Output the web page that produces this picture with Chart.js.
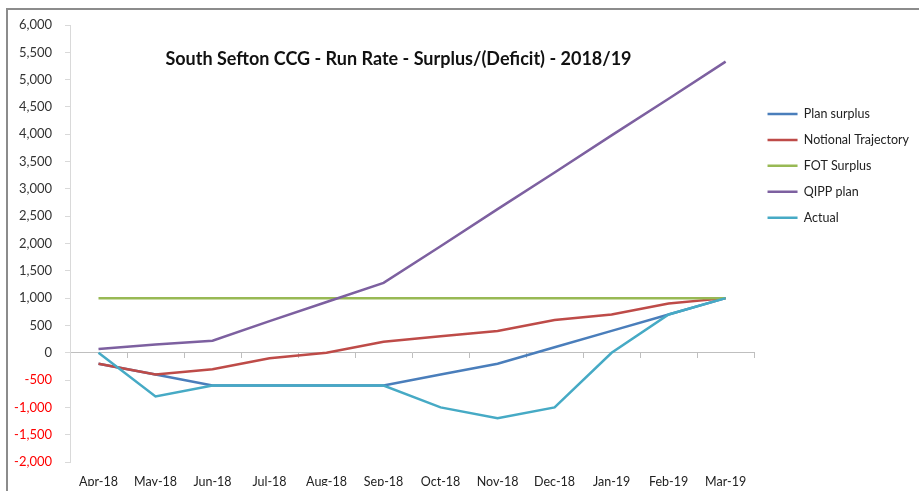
<!DOCTYPE html>
<html>
<head>
<meta charset="utf-8">
<script src="https://cdn.jsdelivr.net/npm/chart.js@4.4.1/dist/chart.umd.min.js"></script>
<style>
  body { margin: 0; background: #fff; }
  #wrap { position: relative; width: 919px; height: 491px; overflow: hidden; }
  #frame { position: absolute; left: 6px; top: 8px; width: 940px; height: 500px;
           border-left: 2px solid #8c8c8c; border-top: 2px solid #8c8c8c; }
  #title { position: absolute; left: 0; top: 47px; width: 797px; text-align: center;
           font: bold 18px Lato, sans-serif; color: #111; line-height: 22px; }
  canvas { position: absolute; left: 0; top: 0; }
</style>
</head>
<body>
<div id="wrap">
  <canvas id="runRate" width="919" height="491"></canvas>
  <div id="frame"></div>
  <div id="title">South Sefton CCG - Run Rate - Surplus/(Deficit) - 2018/19</div>
</div>
<script>
const months = ['Apr-18', 'May-18', 'Jun-18', 'Jul-18', 'Aug-18', 'Sep-18', 'Oct-18', 'Nov-18', 'Dec-18', 'Jan-19', 'Feb-19', 'Mar-19'];
const planSurplus = [-200, -400, -600, -600, -600, -600, -400, -200, 100, 400, 700, 1000];
const notionalTrajectory = [-200, -400, -300, -100, 0, 200, 300, 400, 600, 700, 900, 1000];
const fotSurplus = [1000, 1000, 1000, 1000, 1000, 1000, 1000, 1000, 1000, 1000, 1000, 1000];
const qippPlan = [70, 150, 220, 580, 930, 1280, 1950, 2630, 3300, 3980, 4650, 5330];
const actual = [0, -800, -600, -600, -600, -600, -1000, -1200, -1000, 0, 700, 1000];

const axisGrey = '#d9d9d9';
const font = { family: 'Lato, sans-serif', size: 12.5 };

function line(label, data, color, order) {
    return { label, data, borderColor: color, backgroundColor: color, borderWidth: 2.5,
             pointRadius: 0, tension: 0, fill: false, order };
}

// Excel draws later series on top, so the first ones get the highest order
const ctx = document.getElementById('runRate').getContext('2d');
const chart = new Chart(ctx, {
    type: 'line',
    data: {
        labels: months,
        datasets: [
            line('Plan surplus', planSurplus, '#4a7ebb', 4),
            line('Notional Trajectory', notionalTrajectory, '#be4b48', 3),
            line('FOT Surplus', fotSurplus, '#98b954', 2),
            line('QIPP plan', qippPlan, '#7d60a0', 1),
            line('Actual', actual, '#46aac5', 0)
        ]
    },
    options: {
        responsive: false,
        animation: false,
        layout: { padding: { left: 8, top: 25, right: 0, bottom: 5 } },
        plugins: {
            title: { display: false },
            tooltip: { enabled: false },
            legend: {
                position: 'right',
                align: 'start',
                maxWidth: 165,
                title: { display: true, text: '', padding: { top: 55, bottom: 0 } },
                labels: {
                    usePointStyle: true,
                    pointStyle: 'line',
                    pointStyleWidth: 30,
                    padding: 13.4,
                    color: '#222',
                    font: font,
                    sort: (a, b) => a.datasetIndex - b.datasetIndex
                }
            }
        },
        scales: {
            x: {
                offset: true,
                grid: { display: false, drawTicks: false },
                border: { display: false },
                ticks: { color: '#222', font: font, padding: 12, maxRotation: 0, autoSkip: false },
                afterFit: s => { s.height = 24; }
            },
            x2: {
                type: 'category',
                labels: months,
                position: { y: 0 },
                offset: true,
                grid: { drawOnChartArea: false, drawTicks: true, tickLength: 5, offset: true, color: '#bfbfbf' },
                border: { display: true, color: '#bfbfbf' },
                ticks: { display: false }
            },
            y: {
                min: -2000,
                max: 6000,
                ticks: {
                    stepSize: 500,
                    padding: 13,
                    font: { family: 'Lato, sans-serif', size: 13 },
                    color: c => c.tick.value < 0 ? '#ff0000' : '#333',
                    callback: v => v.toLocaleString('en-GB')
                },
                grid: { drawOnChartArea: false, drawTicks: true, tickLength: 5, color: axisGrey },
                border: { display: true, color: axisGrey },
                afterFit: s => { s.width = 62; }
            }
        }
    }
});
</script>
</body>
</html>
